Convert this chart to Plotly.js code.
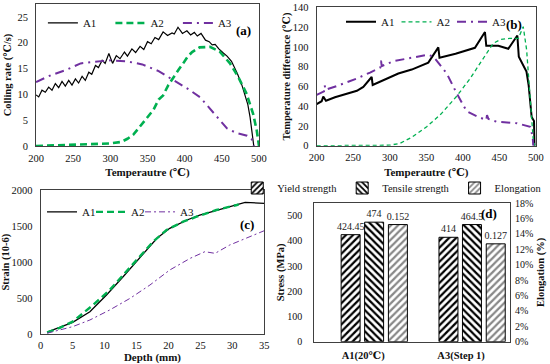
<!DOCTYPE html>
<html><head><meta charset="utf-8">
<script src="https://cdn.plot.ly/plotly-3.0.1.min.js"></script>
<style>html,body{margin:0;padding:0;background:#fff}#chart{width:550px;height:364px}</style>
</head><body><div id="chart"></div>
<script>
// ---------- data ----------
const seriesNames = ['A1', 'A2', 'A3'];

// (a) cooling rate vs temperature
const aA1Temp = [200,203.6,208,212.5,217,221.5,226,230.5,235,239.4,244,248.4,253,257.3,262,266.3,271,275,280,284,289,293,298,303,308,313,319,323,329,334,340,345,350,355,360,365,371,377,383,386,391,397,403,408,413,417,422,428,433,437,441,446,452,457,463,467,471,477,481,485,488,490.5,492.5,493];
const aA1Rate = [9.9,9.5,10.8,10.4,11.4,10.8,12.1,11.3,12.5,11.6,12.7,11.8,13.0,12.2,13.5,12.7,14.3,13.9,15.6,15.2,16.6,16.0,17.9,16.0,17.5,16.9,18.2,17.4,18.8,18.1,19.3,18.7,20.2,19.8,21.0,20.6,22.1,21.4,21.9,21.7,23.0,21.8,22.3,21.5,22.0,21.3,21.8,20.5,20.2,19.6,19.7,18.8,18.0,17.4,16.4,15.3,14.0,11.8,9.8,8.0,5.6,3.0,0.5,0];
const aA2Temp = [200,240,270,300,315,323,331,340,350,358,365,371,378,385,392,398,404,410,420,434,447,461,472,483,492,497,499,500];
const aA2Rate = [0,0.15,0.3,0.5,0.8,1.4,2.2,3.8,5.5,7.0,9.0,9.8,11.8,13.4,14.8,16.0,17.3,18.2,19.1,19.2,18.3,16.0,13.4,10.2,6.3,3.0,0.5,0];
const aA3Temp = [200,220,240,260,278,300,322,343,365,390,405,421,440,457,470,484,490,493];
const aA3Rate = [12.4,13.7,14.7,16.0,16.3,16.6,16.4,15.8,14.5,12.4,11.0,9.4,6.2,3.4,2.5,2.0,1.4,0];

// (b) temperature difference vs temperature
const bA1Temp = [200,206.8,209,212.7,225,240,255,263.8,275.2,276.6,290,311.7,330,352.7,366.4,368,390,416.5,430.2,432,448.5,462.1,474.5,476.5,487,490,494.1,497.3,498];
const bA1Diff = [42,45,49.6,45.5,49,52,55.5,59.5,69.5,61.4,66,73,77,84,99.5,89,93,99,115,101,101,98,111.5,90,75,61,29,25,0];
const bA2Temp = [200,250,300,314,330,350.5,370,391.5,410,425,441.6,452,464,476,482.6,487.2,491.8,496.3,498.6];
const bA2Diff = [0,0,0.5,2.4,8.5,19.2,32,50,68,85,103.6,107.5,108.6,108.6,120.4,97,46,5.7,0];
const bA3Temp = [200,210,211,212,230,255,273,287,288,289,305,330,352,360,378,391.5,405,420,432,433,435,446,474,492,495.5,496.3];
const bA3Diff = [51.5,55,61,56.5,61,68,74,79,86,80.5,85.5,89,92,90,73,53,35,29.5,26,31,27,24.3,22.7,19.2,9,0];

// (c) strain vs depth
const cA1Depth = [1,3,5,7.7,10.3,12.9,15.5,18.2,20.2,22.9,24.9,28.6,32,35];
const cA1Strain = [30,95,165,313,545,798,1053,1331,1469,1584,1653,1746,1829,1815];
const cA2Depth = [1,3,5,8.2,10.8,12.9,15.5,17.6,19.7,22.3,24.4,27.5,30.7,31];
const cA2Strain = [25,90,175,406,614,822,1076,1284,1446,1561,1630,1723,1792,1800];
const cA3Depth = [1,3,5,7.7,10.8,14,17.1,20.2,23.4,25.7,27.3,29.6,32.2,35];
const cA3Strain = [15,60,106,198,337,499,683,891,1053,1145,1122,1238,1331,1436];

// (d) mechanical properties
const dCategories = ['A1(20℃)', 'A3(Step 1)'];
const dYield = [424.45, 414];
const dTensile = [474, 464.5];
const dElong = [0.152, 0.127];
const dNames = ['Yield strength', 'Tensile strength', 'Elongation'];

// ---------- style ----------
const SERIF = '"Liberation Serif", "Times New Roman", "DejaVu Serif", "DejaVu Sans", serif';
const GREEN = '#00B050', PURPLE = '#7030A0';
const tickF = {family: SERIF, size: 10.5, color: '#111'};
const titleF = {family: SERIF, size: 10.5, color: '#111', weight: 'bold'};
const xTitleF = {family: SERIF, size: 11, color: '#111', weight: 'bold'};
const legF = {family: SERIF, size: 11, color: '#111'};
const DASHDOT = '9px,5px,2px,5px';

function line(x, y, name, xa, ya, leg, color, width, dash, lw) {
  return {type: 'scatter', mode: 'lines', x: x, y: y, name: name, xaxis: xa, yaxis: ya,
    legend: leg, legendwidth: lw, line: {color: color, width: width, dash: dash}};
}

const traces = [
  line(aA1Temp, aA1Rate, seriesNames[0], 'x', 'y', 'legend', '#000', 1.2, 'solid', 22.5),
  line(aA2Temp, aA2Rate, seriesNames[1], 'x', 'y', 'legend', GREEN, 2.6, '7px,4px', 22.5),
  line(aA3Temp, aA3Rate, seriesNames[2], 'x', 'y', 'legend', PURPLE, 2, DASHDOT, 14),
  line(bA1Temp, bA1Diff, seriesNames[0], 'x2', 'y2', 'legend2', '#000', 2, 'solid', 10.5),
  line(bA2Temp, bA2Diff, seriesNames[1], 'x2', 'y2', 'legend2', GREEN, 1.3, '4px,3px', 10.5),
  line(bA3Temp, bA3Diff, seriesNames[2], 'x2', 'y2', 'legend2', PURPLE, 2, DASHDOT, 14),
  line(cA1Depth, cA1Strain, seriesNames[0], 'x3', 'y3', 'legend3', '#000', 1.3, 'solid', 4),
  line(cA2Depth, cA2Strain, seriesNames[1], 'x3', 'y3', 'legend3', GREEN, 2.4, '7px,4px', 4),
  line(cA3Depth, cA3Strain, seriesNames[2], 'x3', 'y3', 'legend3', PURPLE, 1, '6px,3px,2px,3px', 14),
];

function bar(y, name, ya, shape, fg, offset) {
  return {type: 'bar', x: dCategories, y: y, name: name, xaxis: 'x4', yaxis: ya, legend: 'legend4',
    width: 0.194, offset: offset,
    marker: {color: 'white', line: {color: '#000', width: 1},
      pattern: {shape: shape, fgcolor: fg, bgcolor: 'white', size: 5, solidity: 0.45}},
    text: y.map(v => String(v)), texttemplate: '%{text}', textposition: 'outside',
    constraintext: 'none', cliponaxis: false,
    textfont: {family: SERIF, size: 10, color: '#222'}};
}
traces.push(bar(dYield, dNames[0], 'y4', '/', '#000', -0.226));
traces.push(bar(dTensile, dNames[1], 'y4', '\\', '#000', 0.014));
traces.push(bar(dElong, dNames[2], 'y5', '/', '#888', 0.257));

function ax(domain, range, extra) {
  return Object.assign({domain: domain, range: range, showline: true, mirror: true,
    linecolor: '#404040', linewidth: 1, showgrid: false, zeroline: false, ticks: '',
    tickfont: tickF, fixedrange: true}, extra);
}

const layout = {
  width: 550, height: 364, margin: {l: 0, r: 0, t: 0, b: 0},
  paper_bgcolor: '#fff', plot_bgcolor: '#fff', barmode: 'overlay',
  font: {family: SERIF},
  xaxis: ax([0.0655, 0.4709], [200, 500], {anchor: 'y', dtick: 50, ticklabelstandoff: 2,
    title: {text: 'Temperautre (℃)', font: xTitleF, standoff: 5}}),
  yaxis: ax([0.5989, 0.989], [0, 27.5], {anchor: 'x', tickvals: [0,5,10,15,20,25], ticklabelstandoff: 5,
    title: {text: 'Colling rate (℃/s)', font: titleF, standoff: 3}}),
  xaxis2: ax([0.5758, 0.9745], [200, 500], {anchor: 'y2', dtick: 50, ticklabelstandoff: 2,
    title: {text: 'Temperautre (℃)', font: xTitleF, standoff: 5}}),
  yaxis2: ax([0.5997, 0.98], [0, 140], {anchor: 'x2', dtick: 20, ticklabelstandoff: 5,
    title: {text: 'Temperature difference (℃)', font: titleF, standoff: 0}}),
  xaxis3: ax([0.074, 0.4805], [0, 35], {anchor: 'y3', dtick: 5, ticklabelstandoff: 1,
    title: {text: 'Depth (mm)', font: xTitleF, standoff: 1}}),
  yaxis3: ax([0.0816, 0.478], [0, 2000], {anchor: 'x3', dtick: 500, ticklabelstandoff: 5,
    title: {text: 'Strain (10-6)', font: titleF, standoff: 0}}),
  xaxis4: ax([0.5715, 0.9273], [-0.5, 1.5], {anchor: 'y4', type: 'category', ticklabelstandoff: 4,
    tickfont: {family: SERIF, size: 10.5, color: '#111', weight: 'bold'}}),
  yaxis4: ax([0.0613, 0.4423], [0, 550], {anchor: 'x4', tickvals: [0,100,200,300,400,500], ticklabelstandoff: 9,
    tickfont: {family: SERIF, size: 10, color: '#111'},
    title: {text: 'Stress (MPa)', font: titleF, standoff: 0}}),
  yaxis5: {overlaying: 'y4', side: 'right', anchor: 'x4', range: [0, 0.18], dtick: 0.02,
    tickformat: '.0%', showline: false, showgrid: false, zeroline: false, ticks: '', ticklabelstandoff: 4,
    tickfont: {family: SERIF, size: 10, color: '#111'}, fixedrange: true,
    title: {text: 'Elongation (%)', font: titleF, standoff: 4}},
  legend: {orientation: 'h', x: 0.078, y: 0.937, xanchor: 'left', yanchor: 'middle',
    bgcolor: 'rgba(0,0,0,0)', font: legF, entrywidth: 22.5, itemwidth: 30},
  legend2: {orientation: 'h', x: 0.62, y: 0.94, xanchor: 'left', yanchor: 'middle',
    bgcolor: 'rgba(0,0,0,0)', font: legF, entrywidth: 10.5, itemwidth: 30},
  legend3: {orientation: 'h', x: 0.0764, y: 0.418, xanchor: 'left', yanchor: 'middle',
    bgcolor: 'rgba(0,0,0,0)', font: legF, entrywidth: 4, itemwidth: 30},
  legend4: {orientation: 'h', x: 0.995, y: 0.4835, xanchor: 'right', yanchor: 'middle',
    bgcolor: 'rgba(0,0,0,0)', font: {family: SERIF, size: 10.5, color: '#111'}},
  annotations: [
    {text: '(a)', x: 0.442, y: 0.943, xref: 'paper', yref: 'paper', showarrow: false, font: {family: SERIF, size: 13, weight: 'bold', color: '#000'}},
    {text: '(b)', x: 0.9527, y: 0.9588, xref: 'paper', yref: 'paper', showarrow: false, font: {family: SERIF, size: 13, weight: 'bold', color: '#000'}},
    {text: '(c)', x: 0.449, y: 0.3819, xref: 'paper', yref: 'paper', showarrow: false, font: {family: SERIF, size: 13, weight: 'bold', color: '#000'}},
    {text: '(d)', x: 0.908, y: 0.4125, xref: 'paper', yref: 'paper', showarrow: false, font: {family: SERIF, size: 13, weight: 'bold', color: '#000'}}
  ]
};

Plotly.newPlot('chart', traces, layout, {staticPlot: true, displayModeBar: false});
</script></body></html>
